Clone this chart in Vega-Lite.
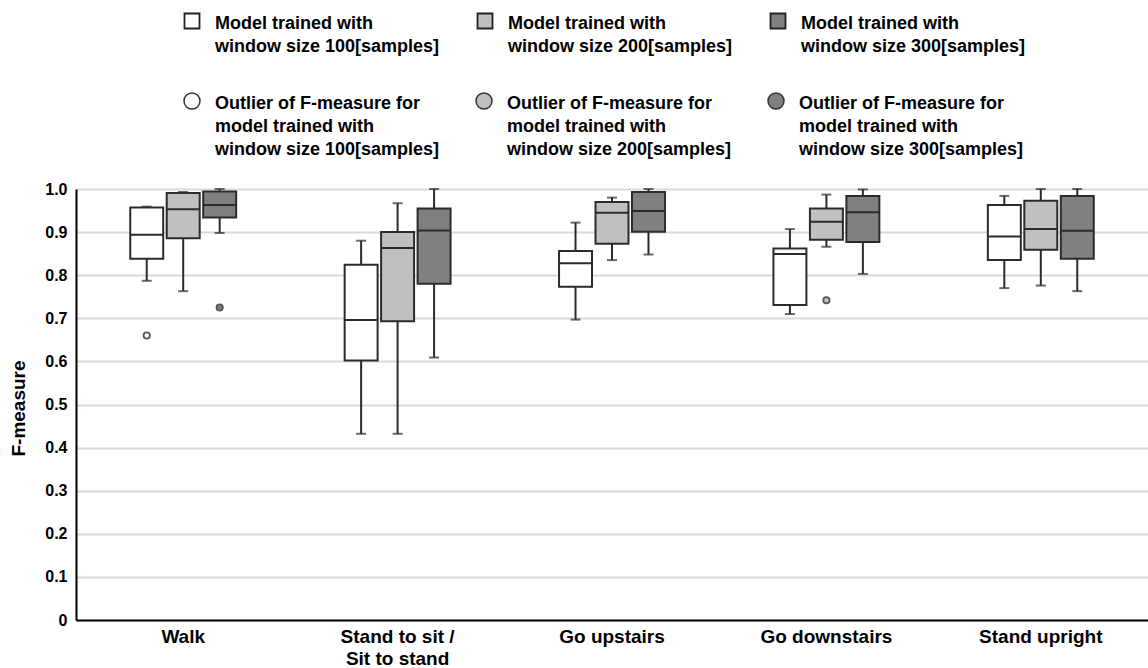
{
  "$schema": "https://vega.github.io/schema/vega-lite/v6.json",
  "width": 1072,
  "height": 431,
  "autosize": {"type": "none"},
  "padding": {"left": 76, "top": 189, "right": 0, "bottom": 48},
  "background": "white",
  "config": {
    "font": "Liberation Sans",
    "view": {"stroke": null},
    "style": {"guide-label": {"lineHeight": 23}}
  },
  "datasets": {
    "boxes": [
      {"activity": "Walk", "window": "100", "lower": 0.787, "q1": 0.838, "median": 0.894, "q3": 0.957, "upper": 0.959},
      {"activity": "Walk", "window": "200", "lower": 0.763, "q1": 0.886, "median": 0.953, "q3": 0.991, "upper": 0.993},
      {"activity": "Walk", "window": "300", "lower": 0.898, "q1": 0.934, "median": 0.963, "q3": 0.994, "upper": 1.0},
      {"activity": "Stand to sit / Sit to stand", "window": "100", "lower": 0.432, "q1": 0.602, "median": 0.696, "q3": 0.824, "upper": 0.88},
      {"activity": "Stand to sit / Sit to stand", "window": "200", "lower": 0.432, "q1": 0.693, "median": 0.863, "q3": 0.9, "upper": 0.967},
      {"activity": "Stand to sit / Sit to stand", "window": "300", "lower": 0.609, "q1": 0.78, "median": 0.904, "q3": 0.955, "upper": 1.0},
      {"activity": "Go upstairs", "window": "100", "lower": 0.697, "q1": 0.773, "median": 0.828, "q3": 0.856, "upper": 0.922},
      {"activity": "Go upstairs", "window": "200", "lower": 0.835, "q1": 0.873, "median": 0.945, "q3": 0.97, "upper": 0.98},
      {"activity": "Go upstairs", "window": "300", "lower": 0.848, "q1": 0.901, "median": 0.949, "q3": 0.993, "upper": 1.0},
      {"activity": "Go downstairs", "window": "100", "lower": 0.71, "q1": 0.731, "median": 0.849, "q3": 0.862, "upper": 0.907},
      {"activity": "Go downstairs", "window": "200", "lower": 0.866, "q1": 0.882, "median": 0.924, "q3": 0.955, "upper": 0.987},
      {"activity": "Go downstairs", "window": "300", "lower": 0.803, "q1": 0.877, "median": 0.946, "q3": 0.984, "upper": 0.999},
      {"activity": "Stand upright", "window": "100", "lower": 0.77, "q1": 0.835, "median": 0.89, "q3": 0.963, "upper": 0.984},
      {"activity": "Stand upright", "window": "200", "lower": 0.776, "q1": 0.859, "median": 0.907, "q3": 0.973, "upper": 1.0},
      {"activity": "Stand upright", "window": "300", "lower": 0.763, "q1": 0.838, "median": 0.903, "q3": 0.984, "upper": 1.0}
    ],
    "outliers": [
      {"activity": "Walk", "window": "100", "value": 0.66},
      {"activity": "Walk", "window": "300", "value": 0.725},
      {"activity": "Go downstairs", "window": "200", "value": 0.742}
    ]
  },
  "encoding": {
    "x": {
      "field": "activity",
      "type": "nominal",
      "sort": ["Walk", "Stand to sit / Sit to stand", "Go upstairs", "Go downstairs", "Stand upright"],
      "scale": {"paddingInner": 0.506, "paddingOuter": 0.253},
      "axis": {
        "title": null,
        "labelAngle": 0,
        "labelFontSize": 19,
        "labelFontWeight": "bold",
        "labelColor": "#000000",
        "labelPadding": 7,
        "labelLineHeight": 22,
        "labelLimit": 0,
        "labelExpr": "datum.label == 'Stand to sit / Sit to stand' ? ['Stand to sit /', 'Sit to stand'] : datum.label",
        "ticks": false,
        "domainColor": "#000000",
        "domainWidth": 2,
        "grid": false
      }
    },
    "xOffset": {
      "field": "window",
      "type": "nominal",
      "sort": ["100", "200", "300"],
      "scale": {"paddingInner": 0.096, "paddingOuter": 0}
    }
  },
  "layer": [
    {
      "data": {"name": "boxes"},
      "mark": {"type": "rule", "color": "#2b2b2b", "strokeWidth": 2},
      "encoding": {
        "y": {
          "field": "lower",
          "type": "quantitative",
          "scale": {"domain": [0, 1], "nice": false, "zero": true},
          "axis": {
            "title": "F-measure",
            "titleFontSize": 19,
            "titleFontWeight": "bold",
            "titleColor": "#000000",
            "titleAngle": -90,
            "titleX": -58,
            "titleY": 219,
            "titleAlign": "center",
            "titleBaseline": "middle",
            "values": [0, 0.1, 0.2, 0.3, 0.4, 0.5, 0.6, 0.7, 0.8, 0.9, 1.0],
            "labelExpr": "datum.value == 0 ? '0' : format(datum.value, '.1f')",
            "labelFontSize": 16,
            "labelFontWeight": "bold",
            "labelColor": "#000000",
            "labelPadding": 9,
            "ticks": false,
            "domainColor": "#000000",
            "domainWidth": 2,
            "gridColor": "#d9d9d9",
            "gridWidth": 2
          }
        },
        "y2": {"field": "q1"}
      }
    },
    {
      "data": {"name": "boxes"},
      "mark": {"type": "rule", "color": "#2b2b2b", "strokeWidth": 2},
      "encoding": {
        "y": {"field": "q3", "type": "quantitative"},
        "y2": {"field": "upper"}
      }
    },
    {
      "data": {"name": "boxes"},
      "mark": {"type": "tick", "color": "#2b2b2b", "size": 10, "thickness": 2},
      "encoding": {"y": {"field": "lower", "type": "quantitative"}}
    },
    {
      "data": {"name": "boxes"},
      "mark": {"type": "tick", "color": "#2b2b2b", "size": 10, "thickness": 2},
      "encoding": {"y": {"field": "upper", "type": "quantitative"}}
    },
    {
      "data": {"name": "boxes"},
      "mark": {"type": "bar", "stroke": "#2b2b2b", "strokeWidth": 2, "opacity": 1},
      "encoding": {
        "y": {"field": "q1", "type": "quantitative"},
        "y2": {"field": "q3"},
        "fill": {
          "field": "window",
          "type": "nominal",
          "scale": {"domain": ["100", "200", "300"], "range": ["#ffffff", "#c0c0c0", "#808080"]},
          "legend": {
            "orient": "none",
            "legendX": 107,
            "legendY": -177,
            "direction": "horizontal",
            "columns": 3,
            "title": null,
            "symbolType": "square",
            "symbolSize": 225,
            "symbolStrokeColor": "#222222",
            "symbolStrokeWidth": 1.8,
            "symbolOpacity": 1,
            "labelFontSize": 18,
            "labelFontWeight": "bold",
            "labelColor": "#000000",
            "labelLimit": 500,
            "labelOffset": 14,
            "labelBaseline": "top",
            "columnPadding": 33,
            "labelExpr": "['Model trained with', 'window size ' + datum.label + '[samples]']",
            "encode": {"labels": {"update": {"dy": {"value": -6}}}}
          }
        }
      }
    },
    {
      "data": {"name": "boxes"},
      "mark": {"type": "bar", "fill": null, "stroke": "#2b2b2b", "strokeWidth": 2},
      "encoding": {
        "y": {"field": "median", "type": "quantitative"},
        "y2": {"field": "median"}
      }
    },
    {
      "data": {"name": "outliers"},
      "mark": {"type": "point", "filled": false, "size": 40, "stroke": "#555555", "strokeWidth": 1.8, "opacity": 1},
      "encoding": {
        "y": {"field": "value", "type": "quantitative"},
        "fill": {
          "field": "window",
          "type": "nominal",
          "scale": {"domain": ["100", "200", "300"], "range": ["#ffffff", "#c0c0c0", "#808080"]},
          "legend": {
            "orient": "none",
            "legendX": 107,
            "legendY": -97,
            "direction": "horizontal",
            "columns": 3,
            "title": null,
            "symbolType": "circle",
            "symbolSize": 256,
            "symbolStrokeColor": "#333333",
            "symbolStrokeWidth": 1.5,
            "symbolOpacity": 1,
            "labelFontSize": 18,
            "labelFontWeight": "bold",
            "labelColor": "#000000",
            "labelLimit": 500,
            "labelOffset": 14,
            "labelBaseline": "top",
            "columnPadding": 33,
            "labelExpr": "['Outlier of F-measure for', 'model trained with', 'window size ' + datum.label + '[samples]']",
            "encode": {"labels": {"update": {"dy": {"value": -6}}}}
          }
        }
      }
    }
  ],
  "resolve": {"scale": {"fill": "independent"}, "legend": {"fill": "independent"}}
}
